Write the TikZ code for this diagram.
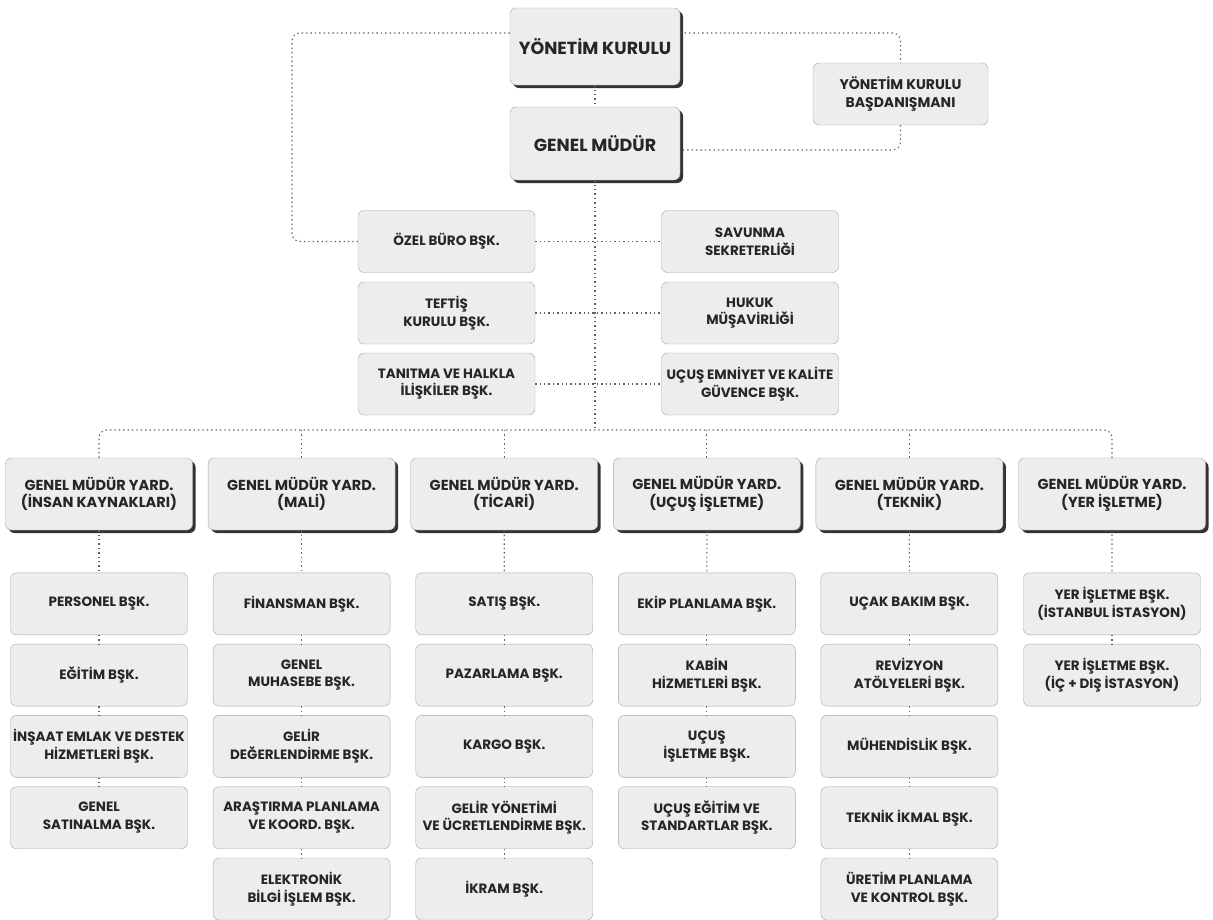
\documentclass[tikz,border=0pt]{standalone}
\usepackage{fontspec}
\setmainfont{Poppins}
\usetikzlibrary{shadows}

\tikzset{
  conn/.style={dash pattern=on 1.4pt off 3pt, line width=1.1pt, black!62},
  kutu/.style={draw=gray!70, fill=gray!14, rounded corners=6pt, align=center, text=black!85, inner sep=1pt},
  golge/.style={drop shadow={shadow xshift=3pt, shadow yshift=-3pt, fill=black!80, opacity=1}},
  ustkutu/.style={kutu, golge, minimum width=170pt, font=\bfseries\fontsize{17.5}{21}\selectfont},
  yardkutu/.style={kutu, golge, minimum width=187pt, minimum height=72pt, font=\bfseries\fontsize{14.5}{17.5}\selectfont},
  birimkutu/.style={kutu, minimum width=177pt, minimum height=62pt, font=\bfseries\fontsize{13.5}{17.5}\selectfont}
}

\begin{document}
\begin{tikzpicture}[x=1pt, y=-1pt]
  \useasboundingbox (0,0) rectangle (1213,919);

  % yonetim
  \node[ustkutu, minimum height=77pt] (yk) at (595,46.5) {YÖNETİM KURULU};
  \node[ustkutu, minimum height=73pt] (gm) at (595,143.5) {GENEL MÜDÜR};
  \node[birimkutu, minimum width=175pt, font=\bfseries\fontsize{14}{17.5}\selectfont] (dan) at (900.5,94) {YÖNETİM KURULU\\BAŞDANIŞMANI};

  % bagli birimler
  \node[birimkutu] (ozel) at (446.5,241.5) {ÖZEL BÜRO BŞK.};
  \node[birimkutu] (teftis) at (446.5,313) {TEFTİŞ\\KURULU BŞK.};
  \node[birimkutu] (tanitma) at (446.5,384) {TANITMA VE HALKLA\\İLİŞKİLER BŞK.};
  \node[birimkutu] (savunma) at (750,241.5) {SAVUNMA\\SEKRETERLİĞİ};
  \node[birimkutu] (hukuk) at (750,313) {HUKUK\\MÜŞAVİRLİĞİ};
  \node[birimkutu] (emniyet) at (750,384) {UÇUŞ EMNİYET VE KALİTE\\GÜVENCE BŞK.};

  % genel mudur yardimcilari
  \node[yardkutu] (gmy1) at (99,494) {GENEL MÜDÜR YARD.\\(İNSAN KAYNAKLARI)};
  \node[yardkutu] (gmy2) at (301.6,494) {GENEL MÜDÜR YARD.\\(MALİ)};
  \node[yardkutu] (gmy3) at (504.2,494) {GENEL MÜDÜR YARD.\\(TİCARİ)};
  \node[yardkutu] (gmy4) at (706.8,494) {GENEL MÜDÜR YARD.\\(UÇUŞ İŞLETME)};
  \node[yardkutu] (gmy5) at (909.4,494) {GENEL MÜDÜR YARD.\\(TEKNİK)};
  \node[yardkutu] (gmy6) at (1112,494) {GENEL MÜDÜR YARD.\\(YER İŞLETME)};

  % baskanliklar: satir/sutun/metin
  \foreach \r/\c/\metin in {
      1/1/{PERSONEL BŞK.}, 2/1/{EĞİTİM BŞK.}, 3/1/{İNŞAAT EMLAK VE DESTEK\\HİZMETLERİ BŞK.}, 4/1/{GENEL\\SATINALMA BŞK.},
      1/2/{FİNANSMAN BŞK.}, 2/2/{GENEL\\MUHASEBE BŞK.}, 3/2/{GELİR\\DEĞERLENDİRME BŞK.}, 4/2/{ARAŞTIRMA PLANLAMA\\VE KOORD. BŞK.}, 5/2/{ELEKTRONİK\\BİLGİ İŞLEM BŞK.},
      1/3/{SATIŞ BŞK.}, 2/3/{PAZARLAMA BŞK.}, 3/3/{KARGO BŞK.}, 4/3/{GELİR YÖNETİMİ\\VE ÜCRETLENDİRME BŞK.}, 5/3/{İKRAM BŞK.},
      1/4/{EKİP PLANLAMA BŞK.}, 2/4/{KABİN\\HİZMETLERİ BŞK.}, 3/4/{UÇUŞ\\İŞLETME BŞK.}, 4/4/{UÇUŞ EĞİTİM VE\\STANDARTLAR BŞK.},
      1/5/{UÇAK BAKIM BŞK.}, 2/5/{REVİZYON\\ATÖLYELERİ BŞK.}, 3/5/{MÜHENDİSLİK BŞK.}, 4/5/{TEKNİK İKMAL BŞK.}, 5/5/{ÜRETİM PLANLAMA\\VE KONTROL BŞK.},
      1/6/{YER İŞLETME BŞK.\\(İSTANBUL İSTASYON)}, 2/6/{YER İŞLETME BŞK.\\(İÇ + DIŞ İSTASYON)}}
    \node[birimkutu] (birim-\r-\c) at ({99+202.6*(\c-1)},{603.8+71.3*(\r-1)}) {\metin};

  % baglantilar
  \coordinate (hat) at (595,430);
  \coordinate (solkose) at (292,240);
  \draw[conn] (yk.south) -- (gm.north);
  \draw[conn, rounded corners=8pt] ([yshift=13.5pt]yk.west) -| (ozel.west -| solkose) -- (ozel.west);
  \draw[conn, rounded corners=8pt] ([yshift=13.5pt]yk.east) -| (dan.north);
  \draw[conn, rounded corners=8pt] (dan.south) |- ([yshift=-6.5pt]gm.east);
  \draw[conn] (gm.south) -- (hat);
  \draw[conn] (ozel.east) -- (savunma.west);
  \draw[conn] (teftis.east) -- (hukuk.west);
  \draw[conn] (tanitma.east) -- (emniyet.west);
  \draw[conn, rounded corners=8pt] (gmy1.north) |- (hat) -| (gmy6.north);
  \foreach \c in {2,...,5}
    \draw[conn] (gmy\c.north |- hat) -- (gmy\c.north);
  \foreach \c/\n in {1/4,2/5,3/5,4/4,5/5,6/2} {
    \draw[conn] (gmy\c.south) -- (birim-1-\c.north);
    \pgfmathtruncatemacro{\son}{\n-1}
    \foreach \r in {1,...,\son} {
      \pgfmathtruncatemacro{\alt}{\r+1}
      \draw[conn] (birim-\r-\c.south) -- (birim-\alt-\c.north);
    }
  }
\end{tikzpicture}
\end{document}
